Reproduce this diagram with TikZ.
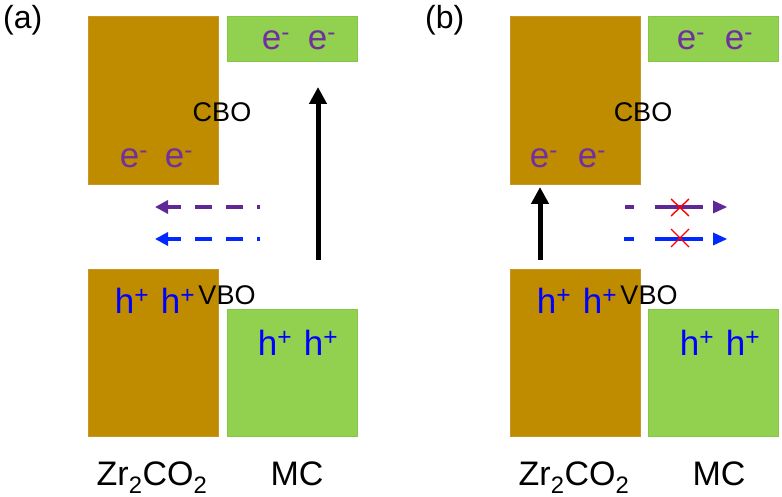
\documentclass[tikz,border=0pt]{standalone}
\usepackage{fontspec}
\setmainfont{Liberation Sans}
\usetikzlibrary{arrows.meta}
\definecolor{brn}{RGB}{191,140,0}
\definecolor{brnedge}{RGB}{200,150,40}
\definecolor{grn}{RGB}{146,208,80}
\definecolor{grnedge}{RGB}{130,200,70}
\definecolor{epur}{RGB}{112,48,160}
\definecolor{apur}{RGB}{96,40,150}
\definecolor{hblue}{RGB}{0,0,255}
\definecolor{ablue}{RGB}{0,40,255}
\begin{document}
\begin{tikzpicture}[x=1pt,y=-1pt,
  brnbox/.style={fill=brn,draw=brnedge,line width=0.8pt,inner sep=0pt,anchor=north west},
  grnbox/.style={fill=grn,draw=grnedge,line width=0.8pt,inner sep=0pt,anchor=north west},
  etext/.style={text=epur,font=\fontsize{35}{37}\selectfont,anchor=base,inner sep=0pt},
  htext/.style={text=hblue,font=\fontsize{35}{37}\selectfont,anchor=base,inner sep=0pt},
  offtext/.style={font=\fontsize{27}{29}\selectfont,anchor=base,inner sep=0pt},
  mattext/.style={font=\fontsize{34}{36}\selectfont,anchor=base,inner sep=0pt},
  paneltext/.style={font=\fontsize{32}{34}\selectfont,anchor=base west,inner sep=0pt},
  bigarrow/.style={line width=5pt,-{Triangle[length=17pt 0,width=17pt 0]}},
  purdash/.style={apur,line width=4pt,dash pattern=on 17pt off 14pt,dash phase=14pt,-{Triangle[length=13pt 0,width=13pt 0]}},
  bludash/.style={ablue,line width=4pt,dash pattern=on 17pt off 14pt,dash phase=14pt,-{Triangle[length=13pt 0,width=13pt 0]}},
  purseg/.style={apur,line width=4pt},
  bluseg/.style={ablue,line width=4pt},
  crossmark/.style={red,line width=1.4pt}]
\useasboundingbox (0,0) rectangle (782,497);
\fill[white] (0,0) rectangle (782,497);

% ---------- panel (a) ----------
\node[paneltext] (la) at (3,29) {(a)};
\node[brnbox,minimum width=130pt,minimum height=168pt] (acb) at (88,16) {};
\node[grnbox,minimum width=130pt,minimum height=45pt] (mcb) at (227,16) {};
\node[brnbox,minimum width=130pt,minimum height=167pt] (avb) at (88,269) {};
\node[grnbox,minimum width=130pt,minimum height=127pt] (mvb) at (227,309) {};

\node[etext] (ae1) at (276,50) {e\textsuperscript{-}};
\node[etext] (ae2) at (322,50) {e\textsuperscript{-}};
\node[etext] (ae3) at (134,168) {e\textsuperscript{-}};
\node[etext] (ae4) at (179,168) {e\textsuperscript{-}};
\node[offtext] (acbo) at (222,122) {CBO};
\node[htext] (ah1) at (132,313) {h\textsuperscript{+}};
\node[htext] (ah2) at (178,313) {h\textsuperscript{+}};
\node[offtext] (avbo) at (227,305) {VBO};
\node[htext] (ah3) at (275,355) {h\textsuperscript{+}};
\node[htext] (ah4) at (321,355) {h\textsuperscript{+}};
\node[mattext] (azr) at (152,485) {Zr\textsubscript{2}CO\textsubscript{2}};
\node[mattext] (amc) at (297,485) {MC};

\coordinate (aup0) at (318,260);
\coordinate (aup1) at (318,87);
\draw[bigarrow] (aup0) -- (aup1);
\coordinate (ap0) at (260,207);
\coordinate (ap1) at (155,207);
\draw[purdash] (ap0) -- (ap1);
\coordinate (ab0) at (260,239);
\coordinate (ab1) at (155,239);
\draw[bludash] (ab0) -- (ab1);

% ---------- panel (b) ----------
\node[paneltext] (lb) at (425,29) {(b)};
\node[brnbox,minimum width=130pt,minimum height=168pt] (bcb) at (510,16) {};
\node[grnbox,minimum width=130pt,minimum height=45pt] (bmcb) at (648,16) {};
\node[brnbox,minimum width=130pt,minimum height=167pt] (bvb) at (510,269) {};
\node[grnbox,minimum width=130pt,minimum height=127pt] (bmvb) at (648,309) {};

\node[etext] (be1) at (691,50) {e\textsuperscript{-}};
\node[etext] (be2) at (739,50) {e\textsuperscript{-}};
\node[etext] (be3) at (544,168) {e\textsuperscript{-}};
\node[etext] (be4) at (592,168) {e\textsuperscript{-}};
\node[offtext] (bcbo) at (643,122) {CBO};
\node[htext] (bh1) at (554,313) {h\textsuperscript{+}};
\node[htext] (bh2) at (600,313) {h\textsuperscript{+}};
\node[offtext] (bvbo) at (649,305) {VBO};
\node[htext] (bh3) at (697,355) {h\textsuperscript{+}};
\node[htext] (bh4) at (743,355) {h\textsuperscript{+}};
\node[mattext] (bzr) at (574,485) {Zr\textsubscript{2}CO\textsubscript{2}};
\node[mattext] (bmc) at (719,485) {MC};

\coordinate (bup0) at (540,260);
\coordinate (bup1) at (540,187);
\draw[bigarrow] (bup0) -- (bup1);

\draw[purseg] (625,207) -- (634,207) (655,207) -- (703,207);
\fill[apur] (713,200.5) -- (727,207) -- (713,213.5) -- cycle;
\draw[bluseg] (624,239) -- (634,239) (655,239) -- (703,239);
\fill[ablue] (713,232.5) -- (727,239) -- (713,245.5) -- cycle;
\draw[crossmark] (671,199) -- (689,216) (671,216) -- (689,199);
\draw[crossmark] (671,229) -- (689,247) (671,247) -- (689,229);
\end{tikzpicture}
\end{document}
